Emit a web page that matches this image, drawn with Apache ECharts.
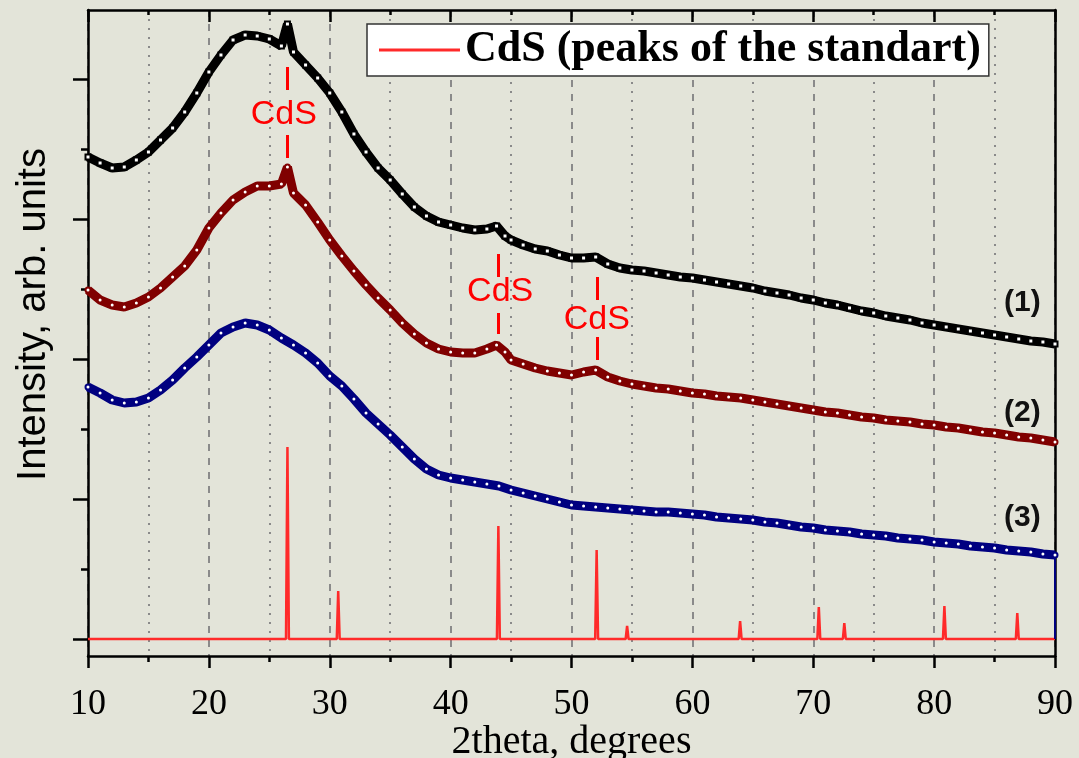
<!DOCTYPE html>
<html>
<head>
<meta charset="utf-8">
<script src="https://cdn.jsdelivr.net/npm/echarts@6/dist/echarts.min.js"></script>
<style>
  html, body { margin: 0; padding: 0; background: #e3e4d9; }
  #chart { width: 1079px; height: 758px; }
</style>
</head>
<body>
<div id="chart"></div>
<script>
// 2theta positions shared by curves (1) and (2)
const theta12 = [10, 11, 12, 13, 14, 15, 16, 17, 18, 19, 20, 21, 22, 23, 24, 25, 26, 26.5,
  27, 28, 29, 30, 31, 32, 33, 34, 35, 36, 37, 38, 39, 40, 41, 42, 43, 43.8, 44.5,
  45, 46, 47, 48, 49, 50, 51, 52, 53, 54, 55, 56, 57, 58, 59, 60, 61, 62, 63, 64, 65,
  66, 67, 68, 69, 70, 71, 72, 73, 74, 75, 76, 77, 78, 79, 80, 81, 82, 83, 84, 85, 86, 87, 88, 89, 90]

// intensity, arb. units (one major tick = 140)
const curve1 = [482, 476, 471, 472, 479, 487, 499, 511, 527, 546, 567, 584, 599, 604, 603, 600, 593, 615,
  587, 574, 561, 546, 527, 505, 487, 471, 459, 445, 432, 423, 417, 414, 411, 409, 410, 413, 403,
  399, 394, 390, 388, 384, 381, 381, 382, 375, 371, 369, 368, 366, 364, 362, 361, 359, 357, 355, 353, 351,
  348, 346, 344, 341, 339, 336, 334, 331, 328, 326, 323, 321, 319, 316, 314, 312, 310, 308, 306, 304, 302, 300, 298, 297, 295]

const curve2 = [349, 339, 334, 332, 336, 342, 351, 362, 373, 389, 411, 426, 439, 447, 453, 453, 455, 472,
  446, 434, 417, 399, 383, 368, 354, 341, 329, 316, 305, 296, 290, 287, 286, 286, 290, 294, 287,
  279, 275, 271, 268, 266, 264, 267, 269, 262, 258, 255, 253, 251, 250, 248, 246, 245, 243, 242, 241, 239,
  237, 235, 233, 231, 229, 227, 226, 224, 222, 221, 219, 218, 217, 215, 214, 212, 211, 209, 207, 206, 204, 202, 201, 199, 197]

// curve (3) is sampled every degree from 10 to 90
const theta3 = Array.from({ length: 81 }, (_, i) => 10 + i)
const curve3 = [252, 246, 239, 236, 237, 241, 249, 259, 271, 282,
  294, 306, 312, 316, 314, 309, 301, 294, 286, 276,
  263, 253, 240, 226, 215, 204, 192, 180, 170, 164,
  161, 159, 157, 155, 153, 149, 146, 143, 140, 137,
  134, 133, 132, 131, 130, 129, 128, 127, 127, 126,
  125, 124, 122, 121, 120, 119, 117, 116, 114, 112,
  111, 109, 108, 107, 105, 104, 103, 101, 100, 99,
  97, 96, 95, 93, 92, 91, 89, 88, 87, 85,
  84]
const curve3End = 0

// CdS standard peaks
const stdPos = [26.5, 30.7, 43.95, 52.08, 54.6, 63.95, 70.46, 72.57, 80.85, 86.88]
const stdHeight = [192, 48, 113, 89, 13, 18, 32, 16, 33, 26]
const stdName = 'CdS (peaks of the standart)'

// CdS reflections marked on the measured curves
const cdsAt = [26.5, 43.9, 52.1]
const cdsLabel = ['CdS', 'CdS', 'CdS']
const curveNames = ['(1)', '(2)', '(3)']

// ---- annotation placement (not data) ----
const cdsDash = [[[549, 572], [481, 504]], [[362, 385], [305, 326]], [[339, 362], [279, 302]]]
const cdsText = [[26.2, 524], [44.1, 347], [52.1, 319]]
const nameAt = [[87.3, 336], [87.3, 226], [87.3, 121]]

const FONT_SANS = 'Liberation Sans, Arial, sans-serif'
const FONT_SERIF = 'Liberation Serif, Times New Roman, serif'

const zip = (xs, ys) => xs.map((x, i) => [x, ys[i]])

const stdData = [[10, 0]]
stdPos.forEach((p, i) => {
  stdData.push([p - 0.12, 0], [p, stdHeight[i]], [p + 0.12, 0])
})
stdData.push([90, 0])

// last point of curve (3) drops back to the base line
const blueDrop = [[90, curve3[curve3.length - 1]], [90, curve3End]]

function nameMark(i) {
  return {
    symbol: 'rect', symbolSize: 0, silent: true,
    label: { show: true, position: 'inside', formatter: curveNames[i], color: '#111',
      fontFamily: FONT_SANS, fontWeight: 'bold', fontSize: 30 },
    data: [{ coord: nameAt[i] }]
  }
}

function curve(name, data, color, symbol, i) {
  return {
    name, type: 'line', data,
    lineStyle: { color, width: 9 },
    itemStyle: { color, borderWidth: 1 },
    symbol, symbolSize: 5, showSymbol: true,
    z: 3,
    markPoint: nameMark(i),
  }
}

const dashLines = []
cdsAt.forEach((x, i) => {
  cdsDash[i].forEach(([a, b]) => dashLines.push([{ coord: [x, a] }, { coord: [x, b] }]))
})

const axisBlack = { color: '#000', width: 2.5 }

const chart = echarts.init(document.getElementById('chart'))
chart.setOption({
  animation: false,
  backgroundColor: '#e3e4d9',
  grid: { left: 88, right: 24, top: 10, bottom: 102, outerBoundsMode: 'none' },
  legend: {
    data: [{ name: stdName, icon: 'rect' }],
    left: 367, top: 24,
    itemWidth: 81, itemHeight: 3,
    backgroundColor: '#fff', borderColor: '#333', borderWidth: 1.5,
    padding: [4, 8, 4, 12],
    textStyle: { fontFamily: FONT_SERIF, fontWeight: 'bold', fontSize: 44, color: '#000' },
  },
  xAxis: [
    {
      type: 'value', min: 10, max: 90, interval: 10, position: 'bottom',
      name: '2theta, degrees', nameLocation: 'middle', nameGap: 66, nameMoveOverlap: false,
      nameTextStyle: { fontFamily: FONT_SERIF, fontSize: 40, color: '#000' },
      axisLine: { onZero: false, lineStyle: axisBlack },
      axisTick: { length: 12, lineStyle: axisBlack },
      minorTick: { show: true, splitNumber: 2, length: 6, lineStyle: axisBlack },
      axisLabel: { fontFamily: FONT_SERIF, fontSize: 36, color: '#000', margin: 31 },
      splitLine: { show: true, lineStyle: { color: '#8a8a8a', width: 2, type: [7, 7] } },
      minorSplitLine: { show: true, lineStyle: { color: '#8a8a8a', width: 2, type: [2, 7] } },
    },
    {
      type: 'value', min: 10, max: 90, interval: 10, position: 'top',
      axisLine: { onZero: false, lineStyle: axisBlack },
      axisTick: { inside: true, length: 12, lineStyle: axisBlack },
      minorTick: { show: true, splitNumber: 2, length: 5, lineStyle: axisBlack },
      axisLabel: { show: false },
      splitLine: { show: false },
    },
  ],
  yAxis: [
    {
      type: 'value', min: -17, max: 629, position: 'left',
      name: 'Intensity, arb. units', nameLocation: 'middle', nameGap: 34,
      nameTextStyle: { fontFamily: FONT_SANS, fontSize: 40, color: '#000', padding: [0, 0, 0, 37] },
      axisLine: { show: true, onZero: false, lineStyle: axisBlack },
      axisTick: { show: true, length: 15, customValues: [0, 140, 280, 420, 560], lineStyle: axisBlack },
      axisLabel: { show: false },
      splitLine: { show: false },
    },
    {
      type: 'value', min: -17, max: 629, position: 'left',
      axisLine: { show: false, onZero: false },
      axisTick: { show: true, length: 7, customValues: [70, 210, 350, 490], lineStyle: axisBlack },
      axisLabel: { show: false },
      splitLine: { show: false },
    },
    {
      type: 'value', min: -17, max: 629, position: 'right',
      axisLine: { show: true, onZero: false, lineStyle: axisBlack },
      axisTick: { show: false },
      axisLabel: { show: false },
      splitLine: { show: false },
    },
  ],
  series: [
    {
      name: stdName, type: 'line', data: stdData,
      symbol: 'none', color: '#ff2a2a',
      lineStyle: { color: '#ff2a2a', width: 2.5 },
      z: 2,
      markLine: {
        silent: true, symbol: 'none', label: { show: false },
        lineStyle: { color: '#ff0000', width: 3, type: 'solid' },
        data: dashLines,
      },
      markPoint: {
        symbol: 'rect', symbolSize: 0, silent: true,
        label: { show: true, position: 'inside', formatter: p => p.name, color: '#ff0000',
          fontFamily: FONT_SANS, fontSize: 34 },
        data: cdsText.map((c, i) => ({ name: cdsLabel[i], coord: c })),
      },
    },
    curve('(1)', zip(theta12, curve1), '#000000', 'emptyRect', 0),
    curve('(2)', zip(theta12, curve2), '#800000', 'emptyCircle', 1),
    curve('(3)', zip(theta3, curve3), '#000080', 'emptyCircle', 2),
    {
      name: '(3) end', type: 'line', data: blueDrop, symbol: 'none',
      lineStyle: { color: '#000080', width: 2 }, z: 3,
    },
  ],
})
</script>
</body>
</html>
